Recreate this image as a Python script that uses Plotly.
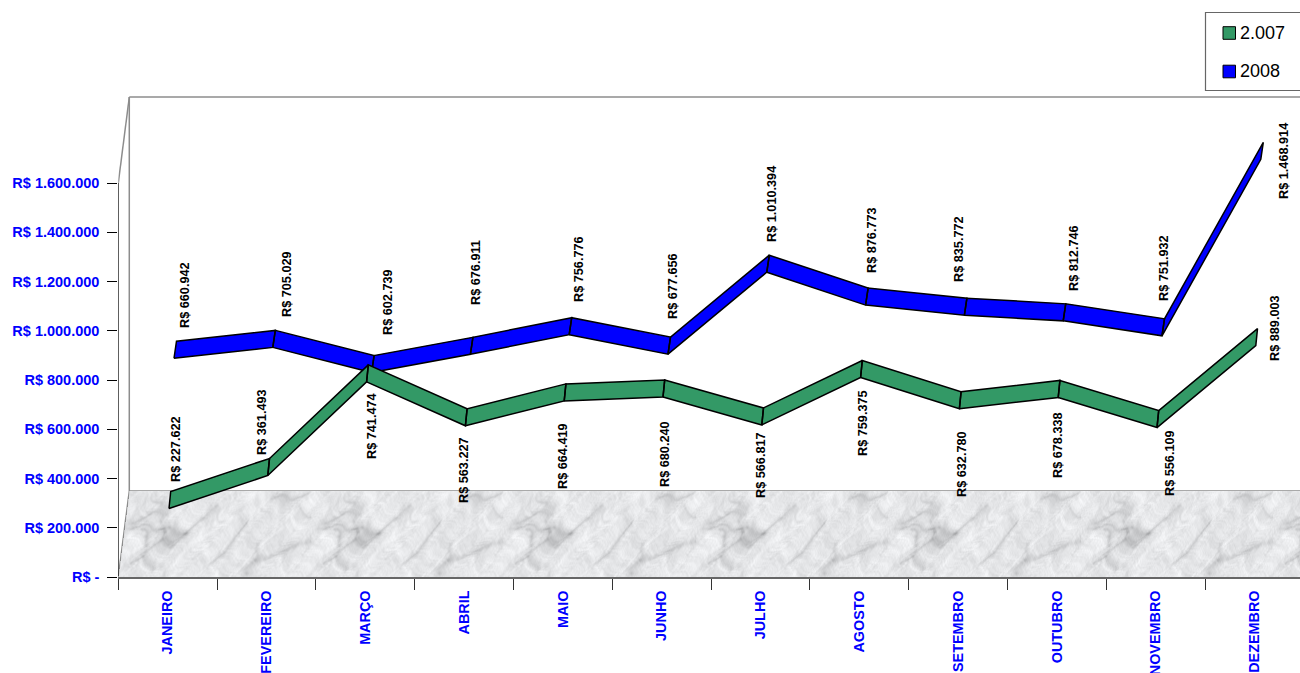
import base64
import struct
import zlib

import numpy as np
import plotly.graph_objects as go

# ---------- data ----------
MONTHS = ["JANEIRO", "FEVEREIRO", "MARÇO", "ABRIL", "MAIO", "JUNHO", "JULHO",
          "AGOSTO", "SETEMBRO", "OUTUBRO", "NOVEMBRO", "DEZEMBRO"]
VALUES_2007 = [227622, 361493, 741474, 563227, 664419, 680240, 566817,
               759375, 632780, 678338, 556109, 889003]
VALUES_2008 = [660942, 705029, 602739, 676911, 756776, 677656, 1010394,
               876773, 835772, 812746, 751932, 1468914]
Y_TICK_VALUES = [0, 200000, 400000, 600000, 800000, 1000000, 1200000, 1400000, 1600000]
Y_TICK_TEXT = ["R$ -", "R$ 200.000", "R$ 400.000", "R$ 600.000", "R$ 800.000",
               "R$ 1.000.000", "R$ 1.200.000", "R$ 1.400.000", "R$ 1.600.000"]

# where each value label sits on the page (label centre, in pixels)
LABEL_X_2007 = [176, 262, 372, 464, 563, 665, 761, 863, 962, 1058, 1170, 1275]
LABEL_Y_2007 = [449, 422, 426, 470, 456, 454, 465, 423, 464, 445, 463, 328]
LABEL_X_2008 = [185, 287, 388, 476, 579, 673, 772, 872, 959, 1074, 1164, 1284]
LABEL_Y_2008 = [295, 284, 302, 273, 269, 286, 204, 240, 249, 258, 268, 161]

# ---------- geometry ----------
W, H = 1300, 673
AX_LEFT, AX_BOTTOM = 118.3, 577.0
STEP = 98.8
PX_PER_VALUE = 394.0 / 1600000
FLOOR_DX, FLOOR_DY = 11.0, 86.0
X_MAX = (W - AX_LEFT) / STEP
Y_MAX = AX_BOTTOM / PX_PER_VALUE


def ux(dx_px):
    return dx_px / STEP


def uy(dy_px):
    return dy_px / PX_PER_VALUE


def px_x(u):
    return AX_LEFT + u * STEP


def px_y(v):
    return AX_BOTTOM - v * PX_PER_VALUE


def money(v):
    return "R$ " + f"{v:,}".replace(",", ".")


def ribbon(values, front, back):
    xs, ys = [], []
    for i in range(len(values) - 1):
        x0, x1 = i + 0.5, i + 1.5
        v0, v1 = values[i], values[i + 1]
        xs += [x0 + ux(front[0]), x1 + ux(front[0]), x1 + ux(back[0]), x0 + ux(back[0]),
               x0 + ux(front[0]), None]
        ys += [v0 + uy(front[1]), v1 + uy(front[1]), v1 + uy(back[1]), v0 + uy(back[1]),
               v0 + uy(front[1]), None]
    return xs, ys


# ---------- marble floor texture (deterministic) ----------
TILE_W, TILE_H = 193, 86
VEINS = [
    [(20, 115), (75, 115), (130, 120), (190, 135)],
    [(130, 120), (135, 160), (90, 185), (60, 200), (100, 240)],
    [(135, 160), (190, 135), (145, 170)],
    [(70, 130), (75, 170)],
    [(190, 130), (250, 90), (285, 60)],
    [(100, 30), (130, 50), (130, 70), (60, 90), (30, 100)],
    [(270, 220), (320, 190), (345, 150), (380, 95)],
    [(400, 160), (400, 195)],
    [(380, 250), (420, 210), (500, 185), (575, 150)],
    [(470, 30), (560, 20)],
    [(30, 220), (70, 210)],
    [(540, 60), (575, 90)],
]
SPOTS = [(75, 145), (378, 255), (245, 92), (135, 130), (405, 215), (120, 100)]


def seg_dist(px, py, a, b):
    ax, ay = a
    bx, by = b
    dx, dy = bx - ax, by - ay
    t = np.clip(((px - ax) * dx + (py - ay) * dy) / max(dx * dx + dy * dy, 1e-6), 0, 1)
    return np.hypot(px - ax - t * dx, py - ay - t * dy)


vv, uu = np.mgrid[0:TILE_H, 0:TILE_W].astype(float)
PHI = 0.6180339887
bend_u = uu + 2.5 * np.sin(2 * np.pi * 5 * uu / TILE_W + vv / 7) + 1.2 * np.sin(2 * np.pi * 11 * uu / TILE_W + vv / 3)
bend_v = vv + 2.5 * np.sin(2 * np.pi * 7 * uu / TILE_W + vv / 5 + 1.2)
shade = np.full(uu.shape, 231.0)
for k in range(1, 90):
    ku = 2 + (k * 13) % 30                    # whole cycles per tile, so seams vanish
    angle = ((k * PHI) % 1 - 0.5) * 2.4
    kv = 2 * np.pi * ku / TILE_W * np.tan(angle)
    amp = 2.3 / ku ** 0.45
    shade += amp * np.sin(2 * np.pi * ku * bend_u / TILE_W + kv * bend_v + 2 * np.pi * ((k * k * PHI) % 1))
# fine grain
for k in range(1, 30):
    ku = 35 + (k * 11) % 60
    kv = ((k * PHI) % 1 - 0.5) * 3.4
    shade += 0.5 * np.sin(2 * np.pi * ku * uu / TILE_W + kv * vv + 2 * np.pi * ((k * k * PHI) % 1))
for poly in VEINS:
    dist = np.full(shade.shape, 1e9)
    for a, b in zip(poly[:-1], poly[1:]):
        a2 = (a[0] / 3 + 2, a[1] / 3 - 3)
        b2 = (b[0] / 3 + 2, b[1] / 3 - 3)
        dist = np.minimum(dist, seg_dist(bend_u, bend_v, a2, b2))
    shade -= 15 * np.exp(-(dist / 2.0) ** 2) + 9 * np.exp(-(dist / 6.0) ** 2)
for s in SPOTS:
    d = np.hypot(uu - (s[0] / 3 + 2), vv - (s[1] / 3 - 3))
    shade -= 18 * np.exp(-(d / 2.2) ** 2)

floor_w = W - int(AX_LEFT)
col = ((np.arange(floor_w) * 193 / 192.5).astype(int)) % TILE_W
gray = np.clip(shade[:, col], 0, 255)
rgba = np.zeros((TILE_H, floor_w, 4), dtype=np.uint8)
rgba[..., 0] = gray
rgba[..., 1] = np.clip(gray + 1, 0, 255)
rgba[..., 2] = np.clip(gray + 3, 0, 255)
left_edge = FLOOR_DX * (TILE_H - 1 - np.arange(TILE_H)) / (TILE_H - 1)
rgba[..., 3] = np.where(np.arange(floor_w)[None, :] >= left_edge[:, None], 255, 0)


def png_uri(arr):
    h, w, _ = arr.shape
    raw = b"".join(b"\x00" + arr[r].tobytes() for r in range(h))

    def chunk(tag, data):
        return (struct.pack(">I", len(data)) + tag + data
                + struct.pack(">I", zlib.crc32(tag + data) & 0xFFFFFFFF))

    png = (b"\x89PNG\r\n\x1a\n"
           + chunk(b"IHDR", struct.pack(">IIBBBBB", w, h, 8, 6, 0, 0, 0))
           + chunk(b"IDAT", zlib.compress(raw, 9))
           + chunk(b"IEND", b""))
    return "data:image/png;base64," + base64.b64encode(png).decode()


# ---------- figure ----------
GREEN, BLUE = "#339966", "#0000FF"
fig = go.Figure()
for name, vals, colour, front, back in [
    ("2008", VALUES_2008, BLUE, (6.3, 56.0), (8.8, 73.0)),
    ("2.007", VALUES_2007, GREEN, (1.3, 12.5), (3.0, 29.5)),
]:
    xs, ys = ribbon(vals, front, back)
    fig.add_trace(go.Scatter(x=xs, y=ys, name=name, mode="lines", fill="toself",
                             fillcolor=colour, line=dict(color="black", width=1.5),
                             showlegend=False, hoverinfo="skip"))

annotations = []
for vals, lx, ly in [(VALUES_2007, LABEL_X_2007, LABEL_Y_2007),
                     (VALUES_2008, LABEL_X_2008, LABEL_Y_2008)]:
    for i, v in enumerate(vals):
        annotations.append(dict(
            x=i + 0.5, y=v, xref="x", yref="y", text=money(v), showarrow=False,
            textangle=-90, xanchor="center", yanchor="middle",
            xshift=lx[i] - px_x(i + 0.5), yshift=px_y(v) - ly[i],
            font=dict(family="Liberation Sans", size=12.7, color="black", weight="bold")))

GRID = "#8c8c8c"
floor_v = uy(FLOOR_DY)
fx = ux(FLOOR_DX)
shapes = []
for x0, y0, x1, y1, c, w in [
    (0, 1600000, fx, 1600000 + floor_v, GRID, 1.5),
    (fx, 1600000 + floor_v, fx, floor_v, GRID, 1.5),
    (fx, 1600000 + floor_v, X_MAX, 1600000 + floor_v, GRID, 1.5),
    (0, 0, fx, floor_v, GRID, 1.5),
    (fx, floor_v, X_MAX, floor_v, GRID, 1.5),
    (0, 0, 0, 1600000, "black", 1.2),
]:
    shapes.append(dict(type="line", xref="x", yref="y", x0=x0, y0=y0, x1=x1, y1=y1,
                       line=dict(color=c, width=w), layer="below"))

# legend box
LEG_L, LEG_T, LEG_B = 1205.5, 12.5, 90.5


def pxr(x):
    return x / W


def pyr(y):
    return 1 - y / H


shapes.append(dict(type="rect", xref="paper", yref="paper",
                   x0=pxr(LEG_L), x1=pxr(W + 5), y0=pyr(LEG_B), y1=pyr(LEG_T),
                   line=dict(color="#666666", width=1.2), fillcolor="white", layer="above"))
for name, colour, yc in [("2.007", GREEN, 33), ("2008", BLUE, 71.5)]:
    shapes.append(dict(type="rect", xref="paper", yref="paper",
                       x0=pxr(1223), x1=pxr(1235.5), y0=pyr(yc + 6.3), y1=pyr(yc - 6.3),
                       fillcolor=colour, line=dict(color="black", width=1.0), layer="above"))
    annotations.append(dict(x=pxr(1238), y=pyr(yc), xref="paper", yref="paper",
                            text=name, showarrow=False, xanchor="left", yanchor="middle",
                            font=dict(family="Liberation Sans", size=18, color="black")))

fig.update_layout(
    width=W, height=H, margin=dict(l=0, r=0, t=0, b=0), autosize=False,
    paper_bgcolor="white", plot_bgcolor="white", showlegend=False,
    xaxis=dict(
        domain=[AX_LEFT / W, 1], range=[0, X_MAX], type="linear", zeroline=False,
        automargin=False,
        showgrid=False, showline=True, linecolor="#666666", linewidth=1.5,
        tickmode="array", tickvals=[i + 0.5 for i in range(12)], ticktext=MONTHS,
        tickangle=-90, ticks="", ticklabelstandoff=6,
        tickfont=dict(family="Liberation Sans", size=14.4, color=BLUE, weight="bold"),
        minor=dict(tickmode="array", tickvals=list(range(13)), ticks="outside",
                   ticklen=11, tickcolor="#333333", tickwidth=1.2, showgrid=False),
    ),
    yaxis=dict(
        domain=[(H - AX_BOTTOM) / H, 1], range=[0, Y_MAX], zeroline=False,
        automargin=False,
        showgrid=False, showline=False,
        tickmode="array", tickvals=Y_TICK_VALUES, ticktext=Y_TICK_TEXT,
        ticks="outside", ticklen=10, tickcolor="black", tickwidth=1.2,
        ticklabelstandoff=5,
        tickfont=dict(family="Liberation Sans", size=14.5, color=BLUE, weight="bold"),
    ),
    images=[dict(source=png_uri(rgba), xref="x", yref="y", x=0, y=floor_v,
                 sizex=X_MAX, sizey=floor_v, sizing="stretch",
                 xanchor="left", yanchor="top", layer="below")],
    shapes=shapes, annotations=annotations,
)

fig.write_html("out.html", config={"displayModeBar": False},
               post_script="document.body.style.margin='0';document.body.style.overflow='hidden';")
